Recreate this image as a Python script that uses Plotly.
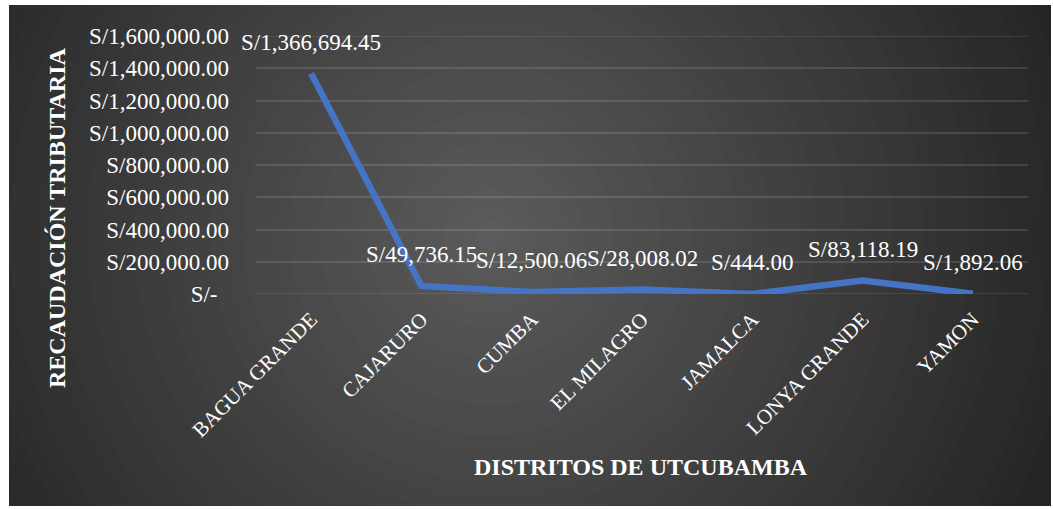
import plotly.graph_objects as go

# ---- data ----
districts = ["BAGUA GRANDE", "CAJARURO", "CUMBA", "EL MILAGRO", "JAMALCA", "LONYA GRANDE", "YAMON"]
recaudacion = [1366694.45, 49736.15, 12500.06, 28008.02, 444.00, 83118.19, 1892.06]
y_tick_values = [0, 200000, 400000, 600000, 800000, 1000000, 1200000, 1400000, 1600000]

x_title = "DISTRITOS DE UTCUBAMBA"
y_title = "RECAUDACIÓN TRIBUTARIA"

# ---- layout geometry (pixels) ----
W, H = 1053, 509
L, R, T, B = 256, 25, 36, 215
PW, PH = W - L - R, H - T - B

def px_x(px):
    return (px - L) / PW

def px_y(py):
    return (H - B - py) / PH

FONT = "Liberation Serif, Times New Roman, serif"
GRID = "rgba(255,255,255,0.12)"

def money(v):
    if v == 0:
        return "S/-\u00a0\u00a0"
    return "S/{:,.2f}".format(v)

fig = go.Figure()

fig.add_trace(go.Scatter(
    x=districts, y=recaudacion, mode="lines",
    line=dict(color="#4674C4", width=6.5),
    hoverinfo="x+y", showlegend=False,
))

# data labels
annotations = []
for d, v in zip(districts, recaudacion):
    annotations.append(dict(
        x=d, y=v, xref="x", yref="y", text=money(v), showarrow=False,
        yshift=31, font=dict(family=FONT, size=23, color="white"),
        xanchor="center", yanchor="middle",
    ))

# axis titles
annotations.append(dict(
    x=px_x(641), y=px_y(467), xref="paper", yref="paper", text="<b>" + x_title + "</b>",
    showarrow=False, font=dict(family=FONT, size=24, color="white"),
    xanchor="center", yanchor="middle",
))
annotations.append(dict(
    x=px_x(57), y=px_y(218), xref="paper", yref="paper", text="<b>" + y_title + "</b>",
    showarrow=False, textangle=-90, font=dict(family=FONT, size=24, color="white"),
    xanchor="center", yanchor="middle",
))

# background radial gradient approximation
shapes = []
cx, cy, Rad = 490, 235, 620
N = 40
c_out, c_in = 36, 92
for k in range(N):
    r = Rad * (1 - k / N)
    c = int(round(c_out + (c_in - c_out) * k / N))
    col = "rgb({0},{0},{0})".format(c)
    shapes.append(dict(
        type="circle", xref="paper", yref="paper",
        x0=px_x(cx - r), x1=px_x(cx + r), y0=px_y(cy + r), y1=px_y(cy - r),
        fillcolor=col, line=dict(width=0), layer="below",
    ))
# white border around frame
fx0, fx1, fy0, fy1 = 9, 1051, 5, 506
big = 2000
for (a, b_, c_, d_) in [(-big, fx0, -big, big), (fx1, big, -big, big),
                        (-big, big, -big, fy0), (-big, big, fy1, big)]:
    shapes.append(dict(
        type="rect", xref="paper", yref="paper",
        x0=px_x(a), x1=px_x(b_), y0=px_y(d_), y1=px_y(c_),
        fillcolor="white", line=dict(width=0), layer="below",
    ))
# gridlines at the range ends (plotly omits those)
for v in (y_tick_values[0], y_tick_values[-1]):
    shapes.append(dict(
        type="line", xref="paper", yref="y", x0=0, x1=1, y0=v, y1=v,
        line=dict(color=GRID, width=1.5), layer="below",
    ))

fig.update_layout(
    width=W, height=H,
    margin=dict(l=L, r=R, t=T, b=B, autoexpand=False),
    paper_bgcolor="#262626",
    plot_bgcolor="rgba(0,0,0,0)",
    font=dict(family=FONT, color="white"),
    showlegend=False,
    shapes=shapes,
    annotations=annotations,
    xaxis=dict(
        type="category", range=[-0.5, len(districts) - 0.5],
        showgrid=False, zeroline=False, showline=False, ticks="",
        tickangle=-45, ticklabelstandoff=8,
        tickfont=dict(family=FONT, size=21, color="white"),
    ),
    yaxis=dict(
        range=[y_tick_values[0], y_tick_values[-1]], tickvals=y_tick_values,
        ticktext=[money(v) for v in y_tick_values],
        showgrid=True, gridcolor=GRID, gridwidth=1.5,
        zeroline=False, showline=False, ticks="",
        ticklabelstandoff=26,
        tickfont=dict(family=FONT, size=23, color="white"),
    ),
)

fig.write_html(
    "out.html",
    config={"displayModeBar": False},
    post_script="document.body.style.margin='0';document.body.style.overflow='hidden';",
)
